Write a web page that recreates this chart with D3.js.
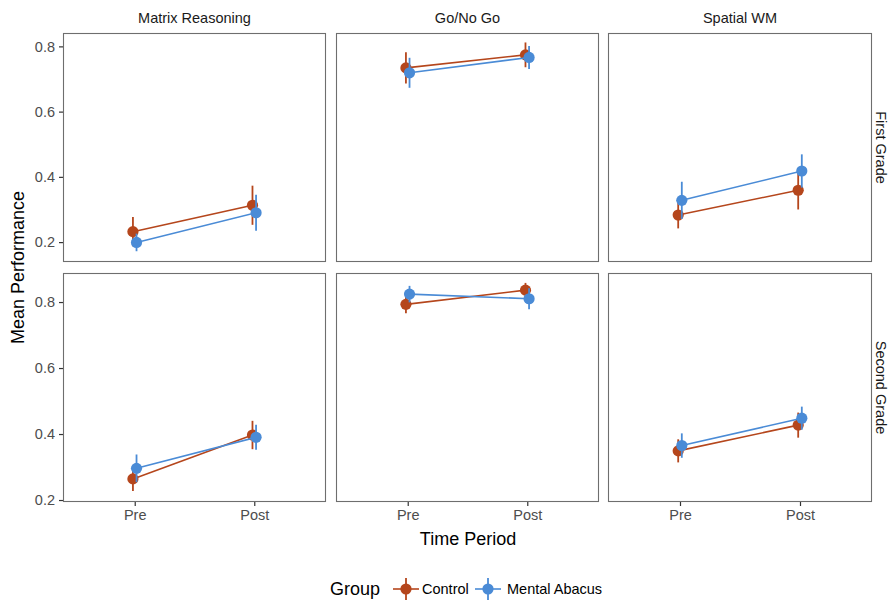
<!DOCTYPE html>
<html>
<head>
<meta charset="utf-8">
<script src="https://cdn.jsdelivr.net/npm/d3@7"></script>
<style>
  body { margin: 0; background: #fff; }
  svg { display: block; font-family: "Liberation Sans", Arial, sans-serif; }
</style>
</head>
<body>
<svg id="chart" width="892" height="601"></svg>
<script>
// ---- data ----
const tasks = ["Matrix Reasoning", "Go/No Go", "Spatial WM"];
const grades = ["First Grade", "Second Grade"];
const periods = ["Pre", "Post"];
const groups = ["Control", "Mental Abacus"];
const yTicks = [0.2, 0.4, 0.6, 0.8];

// mean [Pre, Post] per task, grade
const controlFirst   = [[0.232, 0.313], [0.734, 0.774], [0.283, 0.359]];
const controlFirstSE = [[0.045, 0.060], [0.048, 0.038], [0.041, 0.059]];
const abacusFirst    = [[0.199, 0.290], [0.719, 0.766], [0.328, 0.418]];
const abacusFirstSE  = [[0.027, 0.055], [0.046, 0.035], [0.057, 0.051]];
const controlSecond   = [[0.264, 0.397], [0.793, 0.836], [0.349, 0.427]];
const controlSecondSE = [[0.037, 0.043], [0.027, 0.022], [0.035, 0.038]];
const abacusSecond    = [[0.296, 0.390], [0.824, 0.810], [0.365, 0.448]];
const abacusSecondSE  = [[0.042, 0.038], [0.025, 0.032], [0.037, 0.035]];

const colors = { "Control": "#B5461C", "Mental Abacus": "#4A8BD6" };

const means = {
  "First Grade":  { "Control": controlFirst,  "Mental Abacus": abacusFirst },
  "Second Grade": { "Control": controlSecond, "Mental Abacus": abacusSecond }
};
const ses = {
  "First Grade":  { "Control": controlFirstSE,  "Mental Abacus": abacusFirstSE },
  "Second Grade": { "Control": controlSecondSE, "Mental Abacus": abacusSecondSE }
};

// ---- layout ----
const svg = d3.select("#chart");
const panelX = [[63, 326], [336, 599], [608, 872]];
const panelY = [[33, 262], [273, 502]];
const yDomains = [[0.139, 0.841], [0.194, 0.888]];
const dodge = { "Control": -0.015, "Mental Abacus": 0.015 };

const textCol = "#4d4d4d";
const borderCol = "#6e6e6e";
const smallFont = "14.5px";
const bigFont = "18px";

grades.forEach((grade, gi) => {
  const [y0, y1] = panelY[gi];
  const y = d3.scaleLinear().domain(yDomains[gi]).range([y1, y0]);

  tasks.forEach((task, ti) => {
    const [x0, x1] = panelX[ti];
    const xPos = d3.scaleLinear().domain([-0.6, 1.6]).range([x0, x1]);
    const xBand = d3.scalePoint().domain(periods).range([xPos(0), xPos(1)]);
    const g = svg.append("g");

    g.append("rect").attr("x", x0).attr("y", y0)
      .attr("width", x1 - x0).attr("height", y1 - y0)
      .attr("fill", "#fff");

    if (ti === 0) {
      const ax = g.append("g").attr("transform", `translate(${x0},0)`)
        .call(d3.axisLeft(y).tickValues(yTicks).tickFormat(d3.format(".1f")).tickSize(4).tickPadding(4));
      ax.select(".domain").remove();
      ax.selectAll(".tick line").attr("stroke", "#333").attr("stroke-width", 1.2);
      ax.selectAll(".tick text").attr("fill", textCol).style("font-size", smallFont);
    }
    if (gi === grades.length - 1) {
      const ax = g.append("g").attr("transform", `translate(0,${y1})`)
        .call(d3.axisBottom(xBand).tickSize(4).tickPadding(4));
      ax.select(".domain").remove();
      ax.selectAll(".tick line").attr("stroke", "#333").attr("stroke-width", 1.2);
      ax.selectAll(".tick text").attr("fill", textCol).style("font-size", smallFont);
    }

    groups.forEach(grp => {
      const m = means[grade][grp][ti];
      const s = ses[grade][grp][ti];
      const pts = periods.map((p, pi) => ({
        x: xPos(pi + dodge[grp]), y: y(m[pi]),
        lo: y(m[pi] - s[pi]), hi: y(m[pi] + s[pi])
      }));
      const col = colors[grp];
      g.append("path").datum(pts)
        .attr("d", d3.line().x(d => d.x).y(d => d.y))
        .attr("fill", "none").attr("stroke", col).attr("stroke-width", 1.6);
      g.selectAll(null).data(pts).enter().append("line")
        .attr("x1", d => d.x).attr("x2", d => d.x)
        .attr("y1", d => d.lo).attr("y2", d => d.hi)
        .attr("stroke", col).attr("stroke-width", 1.8);
      g.selectAll(null).data(pts).enter().append("circle")
        .attr("cx", d => d.x).attr("cy", d => d.y).attr("r", 5.6)
        .attr("fill", col);
    });

    g.append("rect").attr("x", x0 + 0.5).attr("y", y0 + 0.5)
      .attr("width", x1 - x0 - 1).attr("height", y1 - y0 - 1)
      .attr("fill", "none").attr("stroke", borderCol).attr("stroke-width", 1.1);

    if (gi === 0) {
      svg.append("text").attr("x", (x0 + x1) / 2).attr("y", 23)
        .attr("text-anchor", "middle").style("font-size", smallFont)
        .attr("fill", "#1a1a1a").text(task);
    }
  });

  const cy = (y0 + y1) / 2;
  svg.append("text").attr("transform", `translate(881,${cy}) rotate(90)`)
    .attr("text-anchor", "middle").attr("dy", "0.35em")
    .style("font-size", smallFont).attr("fill", "#1a1a1a").text(grade);
});

svg.append("text").attr("transform", `translate(24,${(33 + 502) / 2}) rotate(-90)`)
  .attr("text-anchor", "middle").style("font-size", bigFont).attr("fill", "#000")
  .text("Mean Performance");
svg.append("text").attr("x", 468).attr("y", 545)
  .attr("text-anchor", "middle").style("font-size", bigFont).attr("fill", "#000")
  .text("Time Period");

const leg = svg.append("g");
leg.append("text").attr("x", 330).attr("y", 595).style("font-size", bigFont)
  .attr("fill", "#000").text("Group");
const legItems = [
  { grp: "Control", cx: 406, tx: 422 },
  { grp: "Mental Abacus", cx: 488, tx: 507 }
];
legItems.forEach(it => {
  const col = colors[it.grp];
  const cy = 589;
  leg.append("line").attr("x1", it.cx - 13).attr("x2", it.cx + 13)
    .attr("y1", cy).attr("y2", cy).attr("stroke", col).attr("stroke-width", 1.6);
  leg.append("line").attr("x1", it.cx).attr("x2", it.cx)
    .attr("y1", cy - 11).attr("y2", cy + 11).attr("stroke", col).attr("stroke-width", 1.8);
  leg.append("circle").attr("cx", it.cx).attr("cy", cy).attr("r", 5.6).attr("fill", col);
  leg.append("text").attr("x", it.tx).attr("y", cy + 5).style("font-size", smallFont)
    .attr("fill", "#000").text(it.grp);
});
</script>
</body>
</html>
